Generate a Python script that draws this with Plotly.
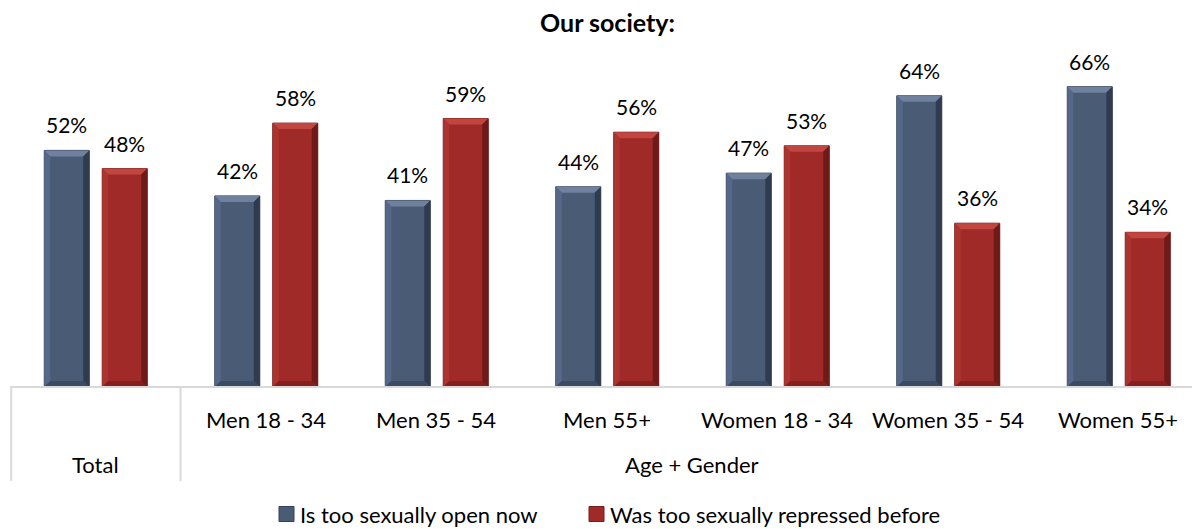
import plotly.graph_objects as go

# Chart data
categories = ["Total", "Men 18 - 34", "Men 35 - 54", "Men 55+",
              "Women 18 - 34", "Women 35 - 54", "Women 55+"]
group_labels = ["Total", "Age + Gender"]
series_names = ["Is too sexually open now", "Was too sexually repressed before"]
open_now = [52, 42, 41, 44, 47, 64, 66]
repressed_before = [48, 58, 59, 56, 53, 36, 34]

FONT = "Lato, 'Open Sans', sans-serif"
LABEL_SIZE = 22
VALUE_SIZE = 21
W, H = 1192, 529
ML, MR, MT, MB = 10, 0, 23, 142
PW, PH = W - ML - MR, H - MT - MB
X0 = -0.5
UNIT_PX = 170.5                      # pixels per category
X1 = X0 + PW / UNIT_PX
Y_MAX = 80

BAR_W = 0.264
OFFSETS = [-0.299, 0.041]
face = ["#4a5b76", "#9f2a27"]
light = ["#6f819d", "#c0463f"]
side_l = ["#56688a", "#ab3330"]
dark = ["#2f3c50", "#6e1a18"]
bottom = ["#3b4a61", "#841f1d"]
outline = ["#34435a", "#7a1e1c"]

xs = list(range(len(categories)))
series = [open_now, repressed_before]

fig = go.Figure()
shapes = []
annotations = []

bx = 6 / UNIT_PX
by = 6 / (PH / Y_MAX)

for i, (name, vals) in enumerate(zip(series_names, series)):
    fig.add_trace(go.Bar(
        x=xs, y=vals, name=name, width=BAR_W, offset=OFFSETS[i],
        marker=dict(color=face[i], line=dict(color=outline[i], width=1)),
        showlegend=False, hoverinfo="x+y",
    ))
    for x, v in zip(xs, vals):
        L = x + OFFSETS[i]
        R = L + BAR_W
        facets = [
            (f"M{L},{v} L{R},{v} L{R-bx},{v-by} L{L+bx},{v-by} Z", light[i]),
            (f"M{L},{v} L{L+bx},{v-by} L{L+bx},{by} L{L},0 Z", side_l[i]),
            (f"M{R},{v} L{R},0 L{R-bx},{by} L{R-bx},{v-by} Z", dark[i]),
            (f"M{L},0 L{R},0 L{R-bx},{by} L{L+bx},{by} Z", bottom[i]),
        ]
        for path, col in facets:
            shapes.append(dict(type="path", path=path, xref="x", yref="y",
                               fillcolor=col, line=dict(width=0), layer="above"))
        annotations.append(dict(
            x=L + BAR_W / 2, y=v, xref="x", yref="y", text=f"{v}%",
            showarrow=False, yanchor="bottom", yshift=11,
            font=dict(family=FONT, size=VALUE_SIZE, color="#000000"),
        ))

# Category table below the axis
grid = "#d9d9d9"
table_bottom = -(481 - (MT + PH)) / PH
shapes.append(dict(type="line", xref="x", yref="paper", x0=X0, x1=X1,
                   y0=0, y1=0, line=dict(color=grid, width=2)))
for xv in (X0 + 0.007, 0.5):
    shapes.append(dict(type="line", xref="x", yref="paper", x0=xv, x1=xv,
                       y0=0, y1=table_bottom, line=dict(color=grid, width=2)))

row1 = -33 / PH
row2 = -78 / PH
for x, c in zip(xs[1:], categories[1:]):
    annotations.append(dict(x=x, y=row1, xref="x", yref="paper", text=c,
                            showarrow=False, yanchor="middle",
                            font=dict(family=FONT, size=LABEL_SIZE, color="#000000")))
annotations.append(dict(x=0, y=row2, xref="x", yref="paper", text=group_labels[0],
                        showarrow=False, yanchor="middle",
                        font=dict(family=FONT, size=LABEL_SIZE, color="#000000")))
annotations.append(dict(x=3.5, y=row2, xref="x", yref="paper", text=group_labels[1],
                        showarrow=False, yanchor="middle",
                        font=dict(family=FONT, size=LABEL_SIZE, color="#000000")))

# Title
annotations.append(dict(x=(607 - ML) / PW, y=1 + 1 / PH, xref="paper", yref="paper",
                        text="<b>Our society:</b>", showarrow=False, yanchor="middle",
                        font=dict(family=FONT, size=25, color="#000000")))

# Legend drawn as swatches + labels
leg_y = -(514 - (MT + PH)) / PH
sw = 15
leg_items = [(279, 298), (589, 608)]
for i, (sx, tx) in enumerate(leg_items):
    shapes.append(dict(type="rect", xref="paper", yref="paper",
                       x0=(sx - ML) / PW, x1=(sx + sw - ML) / PW,
                       y0=leg_y - (sw / 2) / PH, y1=leg_y + (sw / 2) / PH,
                       fillcolor=face[i], line=dict(color=outline[i], width=1)))
    annotations.append(dict(x=(tx - ML) / PW, y=leg_y, xref="paper", yref="paper",
                            text=series_names[i], showarrow=False,
                            xanchor="left", yanchor="middle",
                            font=dict(family=FONT, size=LABEL_SIZE, color="#000000")))

fig.update_layout(
    width=W, height=H,
    margin=dict(l=ML, r=MR, t=MT, b=MB, pad=0),
    paper_bgcolor="white", plot_bgcolor="white",
    barmode="overlay",
    xaxis=dict(range=[X0, X1], showticklabels=False, showgrid=False,
               zeroline=False, showline=False, ticks=""),
    yaxis=dict(range=[0, Y_MAX], showticklabels=False, showgrid=False,
               zeroline=False, showline=False, ticks=""),
    shapes=shapes, annotations=annotations, showlegend=False,
)

fig.write_html("out.html")
